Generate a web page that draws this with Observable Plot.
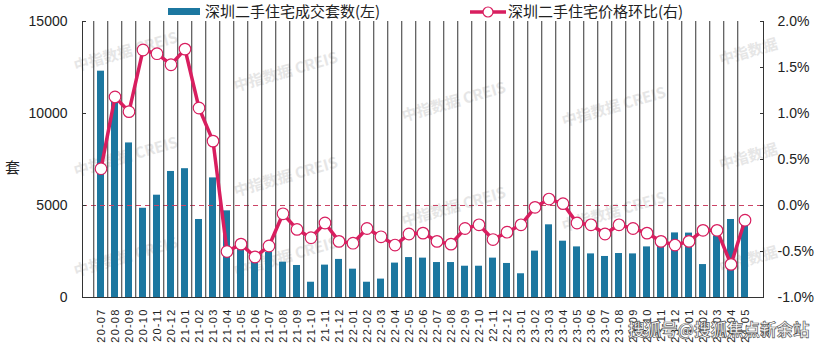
<!DOCTYPE html>
<html><head><meta charset="utf-8">
<script src="https://cdn.jsdelivr.net/npm/d3@7"></script>
<script src="https://cdn.jsdelivr.net/npm/@observablehq/plot@0.6"></script>
<style>
body{margin:0;background:#fff;}
#wrap{position:relative;width:826px;height:351px;overflow:hidden;font-family:"Liberation Sans","Noto Sans CJK SC",sans-serif;}
#wrap svg{position:absolute;left:0;top:0;}
g[aria-label="x-axis tick label"] text{letter-spacing:1.2px;}
.leg{position:absolute;top:1px;font-family:"Noto Sans CJK SC",sans-serif;font-size:15px;color:#222;line-height:20px;white-space:nowrap;}
.wm{position:absolute;font-family:"Noto Sans CJK SC",sans-serif;font-weight:bold;font-size:15px;color:#e6e6e6;transform:rotate(-16deg);white-space:nowrap;}
.sohu{position:absolute;left:628px;top:318px;font-family:"Noto Sans CJK SC",sans-serif;font-weight:bold;font-size:16.5px;color:#fff;-webkit-text-stroke:0.7px #555;white-space:nowrap;line-height:22px;}
</style></head><body>
<div id="wrap"></div>
<script>
const months = ["20-07","20-08","20-09","20-10","20-11","20-12","21-01","21-02","21-03","21-04","21-05","21-06","21-07","21-08","21-09","21-10","21-11","21-12","22-01","22-02","22-03","22-04","22-05","22-06","22-07","22-08","22-09","22-10","22-11","22-12","23-01","23-02","23-03","23-04","23-05","23-06","23-07","23-08","23-09","23-10","23-11","23-12","24-01","24-02","24-03","24-04","24-05"];
const deals = [12300,10800,8400,4850,5560,6850,7000,4240,6500,4710,2600,2000,2460,1920,1740,830,1760,2070,1540,830,1000,1870,2170,2140,1900,1900,1700,1700,2140,1850,1290,2520,3950,3060,2750,2370,2230,2390,2370,2750,2790,3510,3500,1790,3350,4240,3990];
const priceMoM = [0.40,1.18,1.02,1.69,1.65,1.53,1.70,1.06,0.70,-0.50,-0.42,-0.56,-0.44,-0.09,-0.26,-0.35,-0.19,-0.39,-0.41,-0.25,-0.34,-0.43,-0.31,-0.30,-0.39,-0.42,-0.25,-0.21,-0.37,-0.29,-0.21,-0.02,0.07,0.02,-0.19,-0.21,-0.31,-0.21,-0.25,-0.30,-0.39,-0.43,-0.39,-0.27,-0.27,-0.64,-0.16];
const leftTicks = [0,5000,10000,15000];
const rightTicks = [-1.0,-0.5,0.0,0.5,1.0,1.5,2.0];
const seriesNames = ["深圳二手住宅成交套数(左)","深圳二手住宅价格环比(右)"];
const yLabel = "套";

const barColor = "#1c77a0", lineColor = "#d81e5f";
// right axis (%) mapped onto left scale: -1% -> 0, 2% -> 15000
const toLeft = p => (p + 1) * 5000;
const data = months.map((m,i)=>({m, deals: deals[i], p: priceMoM[i], pl: toLeft(priceMoM[i])}));
const W = 826, ML = 82, MR = 63;
const step = (W - ML - MR) / months.length;

const chart = Plot.plot({
  width: W, height: 351,
  marginLeft: ML, marginRight: MR, marginTop: 21, marginBottom: 54,
  style: {fontFamily: '"Liberation Sans", sans-serif', color: "#222", background: "transparent"},
  x: {domain: months, paddingInner: 0.52, paddingOuter: 0.26, align: 0.5},
  y: {domain: [0, 15000]},
  marks: [
    Plot.barY(data, {x: "m", y: "deals", fill: barColor}),
    Plot.ruleY([toLeft(0)], {stroke: "#cc4466", strokeWidth: 1, strokeDasharray: "5,4"}),
    Plot.ruleY([0], {stroke: "#333"}),
    Plot.frame({anchor: "left", stroke: "#333"}),
    Plot.frame({anchor: "right", stroke: "#333"}),
    Plot.tickX(months, {x: d => d, y1: -170, y2: 170, dx: -step/2, stroke: "#333"}),
    Plot.axisY({anchor: "left", ticks: leftTicks, tickFormat: d => String(d), tickSize: -4, tickPadding: 19, fontSize: 14, stroke: "#333"}),
    Plot.axisY({anchor: "right", ticks: rightTicks.map(toLeft), tickFormat: d => (d/5000 - 1).toFixed(1) + "%", tickSize: -4, tickPadding: 18, fontSize: 14, stroke: "#333"}),
    Plot.axisX({tickSize: 0, tickRotate: -90, tickPadding: 11, fontSize: 11, label: null}),
    Plot.line(data, {x: "m", y: "pl", stroke: lineColor, strokeWidth: 3.5}),
    Plot.dot(data, {x: "m", y: "pl", r: 5.8, fill: "white", stroke: lineColor, strokeWidth: 1.2})
  ]
});
const wrap = document.getElementById("wrap");
// watermarks
const wms = [[72,40,"中指数据 CREIS"],[232,60,"中指数据 CREIS"],[400,90,"中指数据 CREIS"],[72,145,"中指数据 CREIS"],[232,165,"中指数据 CREIS"],[560,95,"中指数据 CREIS"],[72,245,"中指数据 CREIS"],[232,245,"中指数据 CREIS"],[560,200,"中指数据 CREIS"],[400,195,"中指数据 CREIS"],[718,40,"中指数据"],[718,145,"中指数据"],[718,248,"中指数据"]];
for (const [x,y,t] of wms){const s=document.createElement("div");s.className="wm";s.style.left=x+"px";s.style.top=y+"px";s.textContent=t;wrap.appendChild(s);}
wrap.appendChild(chart);
// legend
const l1 = document.createElement("div");
l1.className="leg"; l1.style.left="168px";
l1.innerHTML = `<span style="display:inline-block;width:32px;height:7px;background:${barColor};vertical-align:middle;margin-right:5px;position:relative;top:-1px"></span>${seriesNames[0]}`;
wrap.appendChild(l1);
const l2 = document.createElement("div");
l2.className="leg"; l2.style.left="470px";
l2.innerHTML = `<svg width="36" height="14" style="vertical-align:middle;position:relative;top:-1px;margin-right:2px"><line x1="0" y1="7" x2="36" y2="7" stroke="${lineColor}" stroke-width="3.5"/><circle cx="18" cy="7" r="5" fill="white" stroke="${lineColor}" stroke-width="1.2"/></svg>${seriesNames[1]}`;
wrap.appendChild(l2);
const yl = document.createElement("div");
yl.className="leg"; yl.style.left="5px"; yl.style.top="157px"; yl.textContent = yLabel;
wrap.appendChild(yl);
const so = document.createElement("div");
so.className="sohu"; so.textContent="搜狐号@搜狐焦点新余站";
wrap.appendChild(so);
</script>
</body></html>
